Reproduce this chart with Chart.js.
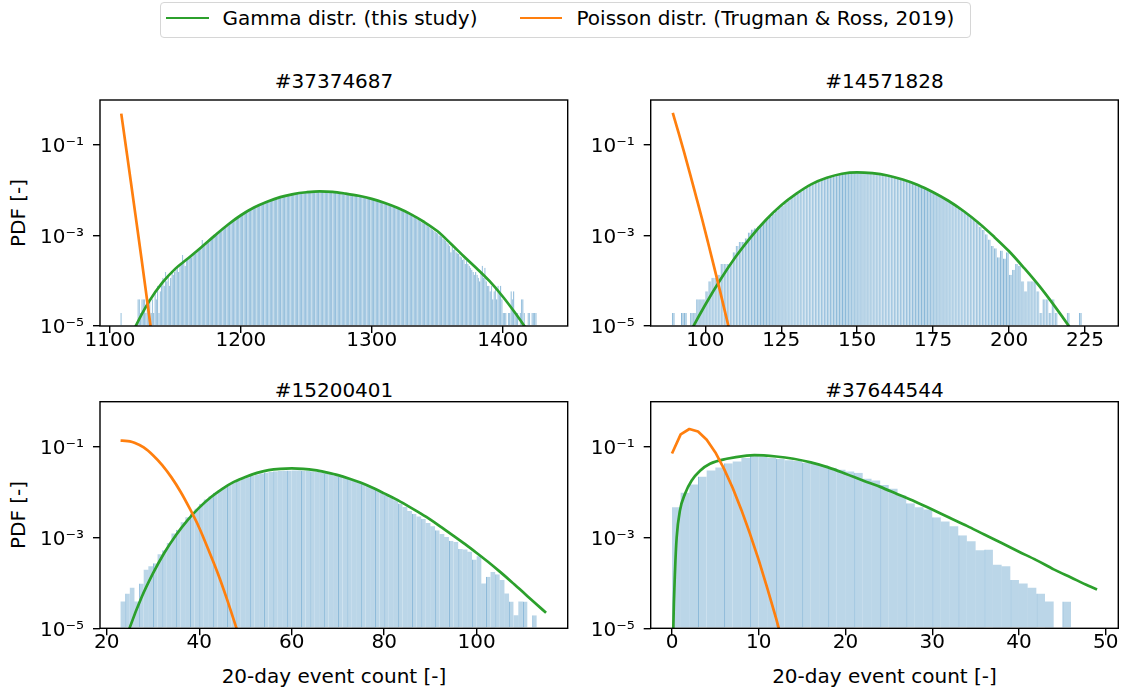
<!DOCTYPE html>
<html>
<head>
<meta charset="utf-8">
<script src="https://cdn.jsdelivr.net/npm/chart.js@4.4.1/dist/chart.umd.min.js"></script>
<style>
html,body{margin:0;padding:0;background:#fff;}
body{width:1123px;height:695px;position:relative;overflow:hidden;font-family:'DejaVu Sans',sans-serif;color:#000;}
canvas{position:absolute;}
.txt{position:absolute;font-size:20px;line-height:20px;white-space:nowrap;font-family:'DejaVu Sans',sans-serif;color:#000;}
.ctr{text-align:center;}
.rot{transform:rotate(-90deg);transform-origin:50% 50%;}
</style>
</head>
<body>
<!-- legend -->
<div style="position:absolute;left:159.5px;top:1.5px;width:809px;height:34px;border:1px solid #d6d6d6;border-radius:4px;"></div>
<div style="position:absolute;left:166px;top:16.8px;width:43px;height:2.7px;background:#2ca02c;"></div>
<div class="txt" style="left:222.6px;top:7.7px;">Gamma distr. (this study)</div>
<div style="position:absolute;left:519.5px;top:16.8px;width:42px;height:2.7px;background:#ff7f0e;"></div>
<div class="txt" style="left:576.5px;top:7.7px;">Poisson distr. (Trugman &amp; Ross, 2019)</div>

<!-- panel titles -->
<div class="txt ctr" id="tTL" style="left:100px;width:468px;top:71.4px;"></div>
<div class="txt ctr" id="tTR" style="left:651px;width:467px;top:71.4px;"></div>
<div class="txt ctr" id="tBL" style="left:100px;width:468px;top:380.4px;"></div>
<div class="txt ctr" id="tBR" style="left:651px;width:467px;top:380.4px;"></div>

<!-- axis titles -->
<div class="txt ctr rot" style="left:-42.3px;top:203px;width:120px;height:20px;">PDF [-]</div>
<div class="txt ctr rot" style="left:-42.3px;top:505px;width:120px;height:20px;">PDF [-]</div>
<div class="txt ctr" style="left:134px;width:400px;top:665.6px;">20-day event count [-]</div>
<div class="txt ctr" style="left:684.5px;width:400px;top:665.6px;">20-day event count [-]</div>

<canvas id="cTL" width="572" height="270" style="left:0px;top:90px;"></canvas>
<canvas id="cTR" width="548" height="270" style="left:575px;top:90px;"></canvas>
<canvas id="cBL" width="572" height="270" style="left:0px;top:392px;"></canvas>
<canvas id="cBR" width="548" height="270" style="left:575px;top:392px;"></canvas>

<script>
// ---------- shared ----------
const pdfPerCount = 1.95e-5;            // PDF height of a bin holding one sample
const yTickValues = [1e-5, 1e-3, 1e-1];
const yTickLabels = ['10\u207B\u2075', '10\u207B\u00B3', '10\u207B\u00B9'];

// ---------- top-left: #37374687 ----------
const tlTitle = '#37374687';
const tlFirstBin = 1108;
const tlCounts = [
  1,0,0,0,0,0,0,0,0,0,
  0,0,0,2,2,1,2,2,2,1,
  2,2,2,1,2,1,3,2,4,1,
  3,4,6,4,8,5,7,4,6,8,
  7,8,9,10,8,11,12,19,13,11,
  14,15,16,18,17,19,21,20,23,24,
  26,27,41,30,32,34,36,38,41,44,
  46,49,51,55,58,62,66,70,74,79,
  83,86,89,94,99,105,111,117,123,130,
  136,140,145,152,159,166,173,180,187,194,
  201,207,214,221,228,235,243,250,258,266,
  273,280,288,295,303,310,318,325,333,340,
  348,355,363,369,375,382,388,394,400,406,
  412,418,427,431,435,440,444,448,452,456,
  460,464,468,471,474,477,479,481,483,485,
  487,488,490,491,490,490,489,488,486,484,
  482,480,479,475,471,467,463,459,455,451,
  445,441,437,432,427,422,417,412,405,398,
  394,391,389,383,377,371,364,358,351,344,
  338,334,331,323,316,309,302,295,286,278,
  271,267,263,256,250,244,238,232,226,220,
  213,209,204,197,191,184,178,171,164,158,
  152,148,145,139,133,127,121,116,110,105,
  100,96,93,89,85,81,77,73,69,66,
  62,59,58,52,51,48,44,42,39,36,
  33,30,22,29,25,27,22,21,20,18,
  17,15,16,12,14,12,11,10,9,8,
  7,8,7,6,5,8,11,6,10,5,
  4,4,3,4,2,3,4,2,4,3,
  4,2,1,1,1,0,1,1,3,2,
  3,1,1,1,0,1,2,2,1,0,
  0,1,1,0,1,1,1,1
];
const tlGammaX = [1110,1120,1130,1140,1150,1160,1170,1180,1190,1200,1210,1220,1230,1240,1250,1260,1270,1280,1290,1300,1310,1320,1330,1340,1350,1360,1370,1380,1390,1400,1410,1420,1430];
const tlGammaY = [2.5e-6,1.05e-5,3.55e-5,9.1e-5,1.86e-4,3.2e-4,5.6e-4,1.0e-3,1.74e-3,2.82e-3,4.17e-3,5.6e-3,7.1e-3,8.3e-3,9.1e-3,9.55e-3,9.3e-3,8.5e-3,7.6e-3,6.5e-3,5.25e-3,4.07e-3,2.95e-3,2.0e-3,1.26e-3,6.8e-4,3.55e-4,1.9e-4,9.8e-5,4.5e-5,1.86e-5,7.1e-6,2.5e-6];
const tlPoissonX = [1108.6,1112,1116,1120,1124,1128,1132];
const tlPoissonY = [0.5,0.1,0.015,2.2e-3,3.2e-4,4.4e-5,6e-6];
const tlXTicks = [1100,1200,1300,1400];

// ---------- top-right: #14571828 ----------
const trTitle = '#14571828';
const trFirstBin = 89;
const trCounts = [
  1,0,0,1,1,0,1,1,2,2,
  2,3,5,6,6,7,12,12,12,12,
  22,30,37,37,45,60,70,75,82,92,
  104,118,136,157,180,208,239,272,309,349,
  392,437,486,536,589,645,702,759,815,873,
  927,982,1033,1081,1127,1166,1201,1233,1257,1274,
  1284,1288,1286,1280,1269,1255,1237,1215,1190,1162,
  1131,1096,1060,1021,980,938,894,850,806,761,
  717,674,630,588,548,508,469,420,383,348,
  315,285,256,230,205,183,165,150,132,115,
  98,80,68,55,42,30,27,17,24,16,
  22,7,9,12,11,5,3,5,5,5,
  3,1,2,2,1,2,1,0,0,0,
  1,0,0,0,1
];
const trGammaX = [85,90,95,100,105,110,115,120,125,130,135,140,145,150,155,160,165,170,175,180,185,190,195,200,205,210,215,220,225,230];
const trGammaY = [2.9e-7,1.55e-6,7.2e-6,2.95e-5,1.07e-4,3.4e-4,9.3e-4,2.24e-3,4.7e-3,8.5e-3,1.38e-2,1.9e-2,2.34e-2,2.51e-2,2.4e-2,2.14e-2,1.74e-2,1.32e-2,9.1e-3,5.9e-3,3.5e-3,1.9e-3,9.5e-4,4.5e-4,1.9e-4,7.6e-5,2.75e-5,9.3e-6,2.9e-6,8.3e-7];
const trPoissonX = [89.3,91,93,95,97,99,101,103,105,107,109];
const trPoissonY = [0.52,0.21,0.071,0.023,7.2e-3,2.24e-3,6.6e-4,1.9e-4,5.4e-5,1.48e-5,4.0e-6];
const trXTicks = [100,125,150,175,200,225];

// ---------- bottom-left: #15200401 ----------
const blTitle = '#15200401';
const blFirstBin = 23;
const blCounts = [
  2,3,4,2,5,10,12,14,22,27,
  39,63,77,112,145,174,224,288,355,417,
  500,575,660,755,850,933,1020,1100,1190,1270,
  1340,1400,1450,1490,1520,1545,1560,1565,1560,1550,
  1530,1500,1460,1410,1350,1290,1220,1150,1080,1010,
  940,870,800,730,660,590,520,450,395,345,
  290,245,198,172,150,133,108,92,75,62,
  53,44,41,29,28,25,17,20,5,7,
  9,8,6,3,2,1,2,2,0,1
];
const blGammaX = [23,25,27.5,30,32.5,35,37.5,40,42.5,45,47.5,50,52.5,55,57.5,60,62.5,65,67.5,70,72.5,75,77.5,80,82.5,85,87.5,90,92.5,95,97.5,100,102.5,105,107.5,110,112.5,115];
const blGammaY = [2.6e-6,1.05e-5,4.7e-5,1.62e-4,4.7e-4,1.15e-3,2.45e-3,4.6e-3,7.8e-3,1.2e-2,1.7e-2,2.19e-2,2.69e-2,3.09e-2,3.31e-2,3.39e-2,3.31e-2,3.09e-2,2.75e-2,2.4e-2,2.0e-2,1.62e-2,1.26e-2,9.5e-3,7.1e-3,5.1e-3,3.6e-3,2.5e-3,1.66e-3,1.1e-3,7.2e-4,4.6e-4,2.9e-4,1.78e-4,1.07e-4,6.3e-5,3.7e-5,2.2e-5];
const blPoissonX = [23,24,25,26,28,30,32,34,36,38,40,42,44,46,48,50];
const blPoissonY = [0.138,0.137,0.133,0.124,0.098,0.066,0.040,0.0214,0.0102,4.3e-3,1.66e-3,5.4e-4,1.66e-4,4.4e-5,1.05e-5,2.5e-6];
const blXTicks = [20,40,60,80,100];

// ---------- bottom-right: #37644544 ----------
const brTitle = '#37644544';
const brFirstBin = 0;
const brCounts = [
  240,500,760,1150,1550,1820,2240,2450,2950,3240,
  3160,2950,2820,2630,2510,2340,2240,2000,1780,1620,
  1480,1380,1020,930,740,615,437,295,240,214,
  145,117,91,58,43,27,28,13,12,6,
  5,4,3,2,0,2
];
const brGammaX = [0.05,0.15,0.35,0.54,0.92,1.5,2.27,3.23,4.38,6.31,8.6,9.5,12,14,16,18,20,22,24,26,28,30,32,34,36,38,40,42,44,46,48,49];
const brGammaY = [3e-7,1.0e-5,1.9e-4,1.02e-3,4.0e-3,9.3e-3,1.82e-2,3.0e-2,4.27e-2,5.5e-2,6.46e-2,6.6e-2,6.17e-2,5.5e-2,4.57e-2,3.55e-2,2.57e-2,1.82e-2,1.32e-2,9.1e-3,6.3e-3,4.2e-3,2.75e-3,1.82e-3,1.17e-3,7.6e-4,4.9e-4,3.2e-4,2.0e-4,1.32e-4,8.7e-5,7.2e-5];
const brPoissonX = [0,1,2,3,4,5,6,7,8,9,10,11,12,13];
const brPoissonY = [0.072,0.19,0.25,0.22,0.145,0.076,0.033,0.0125,0.0041,0.0012,3.2e-4,7.5e-5,1.65e-5,3.3e-6];
const brXTicks = [0,10,20,30,40,50];

// ---------- drawing ----------
Chart.defaults.font.family = "'DejaVu Sans', sans-serif";
Chart.defaults.color = '#000';

const framePlugin = {
  id: 'frame',
  afterDatasetsDraw(chart) {
    const {ctx, chartArea: a} = chart;
    ctx.save();
    ctx.strokeStyle = '#000';
    ctx.lineWidth = 1.4;
    ctx.strokeRect(a.left, a.top, a.right - a.left, a.bottom - a.top);
    ctx.restore();
  }
};

function yLabelFor(v) {
  for (let i = 0; i < yTickValues.length; i++) {
    if (Math.abs(Math.log10(v) - Math.log10(yTickValues[i])) < 1e-6) return yTickLabels[i];
  }
  return '';
}

function makePanel(canvasId, titleId, p) {
  document.getElementById(titleId).textContent = p.title;
  const bars = [];
  p.counts.forEach((c, i) => {
    if (c > 0) bars.push({x: p.firstBin + i + 0.5, y: c * pdfPerCount, bin: p.firstBin + i});
  });
  const gamma = p.gx.map((x, i) => ({x: x, y: p.gy[i]}));
  const pois = p.px.map((x, i) => ({x: x, y: p.py[i]}));
  const tickFont = {size: 20, family: "'DejaVu Sans', sans-serif", lineHeight: 1};
  const gridOpts = {display: true, drawOnChartArea: false, drawTicks: true, tickLength: 7,
                    color: '#000', lineWidth: 1.4, offset: false};
  new Chart(document.getElementById(canvasId), {
    type: 'bar',
    data: {
      datasets: [
        {type: 'line', data: pois, borderColor: '#ff7f0e', borderWidth: 2.7, pointRadius: 0,
         fill: false, tension: 0, cubicInterpolationMode: p.poisSmooth ? 'monotone' : 'default',
         capBezierPoints: false, borderJoinStyle: 'round', order: 0},
        {type: 'line', data: gamma, borderColor: '#2ca02c', borderWidth: 2.7, pointRadius: 0,
         fill: false, cubicInterpolationMode: 'monotone', capBezierPoints: false,
         borderJoinStyle: 'round', order: 1},
        {type: 'bar', data: bars, backgroundColor: p.fill, borderColor: p.seam,
         borderWidth: (c) => ({top: 0, right: 0, bottom: 0,
                               left: (c.raw && p.seamAt(c.raw.bin)) ? 1 : 0}),
         borderSkipped: false, barPercentage: 1, categoryPercentage: 1, inflateAmount: p.inflate,
         base: 1e-5, order: 2}
      ]
    },
    options: {
      responsive: false, animation: false, devicePixelRatio: 1, events: [],
      layout: {padding: {left: 0, right: p.padR, top: p.padT, bottom: 0}},
      plugins: {legend: {display: false}, tooltip: {enabled: false}, title: {display: false}},
      scales: {
        x: {
          type: 'linear', min: p.xmin, max: p.xmax, offset: false,
          afterBuildTicks: (s) => { s.ticks = p.xticks.map(v => ({value: v})); },
          afterFit: (s) => { s.height = p.xAxisH; s.paddingLeft = 0; s.paddingRight = 0;
                             s.paddingTop = 0; s.paddingBottom = 0; },
          ticks: {font: tickFont, color: '#000', padding: -2.6, maxRotation: 0, minRotation: 0,
                  autoSkip: false, callback: (v) => String(v)},
          grid: gridOpts, border: {display: false}
        },
        y: {
          type: 'logarithmic', min: 1e-5, max: 1,
          afterBuildTicks: (s) => { s.ticks = yTickValues.map(v => ({value: v})); },
          afterFit: (s) => { s.width = p.yAxisW; s.paddingTop = 0; s.paddingBottom = 0;
                             s.paddingLeft = 0; s.paddingRight = 0; },
          ticks: {font: tickFont, color: '#000', padding: 9, labelOffset: 2, autoSkip: false,
                  callback: (v) => yLabelFor(v)},
          grid: gridOpts, border: {display: false}
        }
      }
    },
    plugins: [framePlugin]
  });
}

const denseFill = 'rgba(31,119,180,0.27)';
const denseSeam = 'rgba(31,119,180,0.42)';
const plainFill = 'rgba(31,119,180,0.30)';
const seamColor = 'rgba(31,119,180,0.52)';

makePanel('cTL', 'tTL', {title: tlTitle, firstBin: tlFirstBin, counts: tlCounts,
  gx: tlGammaX, gy: tlGammaY, px: tlPoissonX, py: tlPoissonY, poisSmooth: true,
  xmin: 1092.36, xmax: 1449.66, xticks: tlXTicks,
  fill: denseFill, seam: denseSeam, seamAt: () => true, inflate: 0.15,
  padR: 4.3, padT: 10, yAxisW: 100, xAxisH: 34});

makePanel('cTR', 'tTR', {title: trTitle, firstBin: trFirstBin, counts: trCounts,
  gx: trGammaX, gy: trGammaY, px: trPoissonX, py: trPoissonY, poisSmooth: true,
  xmin: 82.03, xmax: 235.96, xticks: trXTicks,
  fill: plainFill, seam: seamColor, seamAt: () => true, inflate: 0,
  padR: 4.7, padT: 10, yAxisW: 75.7, xAxisH: 34});

makePanel('cBL', 'tBL', {title: blTitle, firstBin: blFirstBin, counts: blCounts,
  gx: blGammaX, gy: blGammaY, px: blPoissonX, py: blPoissonY, poisSmooth: true,
  xmin: 18.55, xmax: 119.68, xticks: blXTicks,
  fill: plainFill, seam: seamColor, seamAt: (n) => (n * 3) % 8 < 3, inflate: 0,
  padR: 4.3, padT: 9.7, yAxisW: 100, xAxisH: 33.7});

makePanel('cBR', 'tBR', {title: brTitle, firstBin: brFirstBin, counts: brCounts,
  gx: brGammaX, gy: brGammaY, px: brPoissonX, py: brPoissonY, poisSmooth: false,
  xmin: -2.456, xmax: 51.45, xticks: brXTicks,
  fill: plainFill, seam: seamColor, seamAt: (n) => n > 0 && n % 3 === 0, inflate: 0,
  padR: 4.7, padT: 9.7, yAxisW: 75.7, xAxisH: 33.7});
</script>
</body>
</html>
